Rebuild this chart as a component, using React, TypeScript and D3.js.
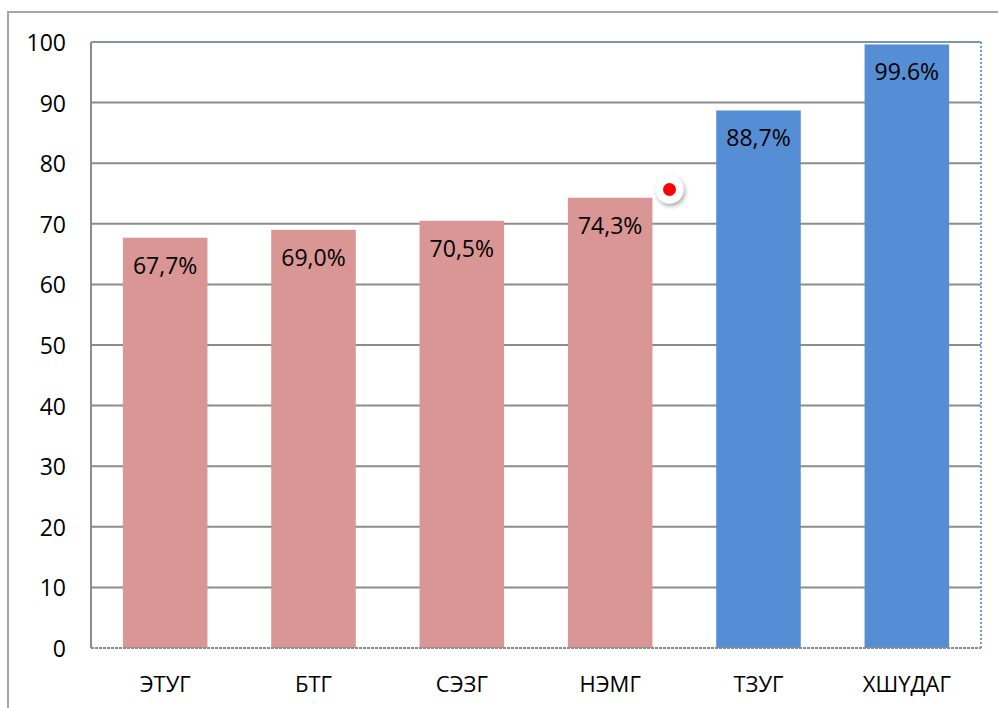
import React from "react";
import * as d3 from "d3";

const categories = ["ЭТУГ", "БТГ", "СЭЗГ", "НЭМГ", "ТЗУГ", "ХШҮДАГ"];
const values = [67.7, 69.0, 70.5, 74.3, 88.7, 99.6];
const labels = ["67,7%", "69,0%", "70,5%", "74,3%", "88,7%", "99.6%"];
const groups = ["pink", "pink", "pink", "pink", "blue", "blue"];
const yTicks = [0, 10, 20, 30, 40, 50, 60, 70, 80, 90, 100];

const W = 998;
const H = 708;
const plot = { left: 91, right: 981, top: 42, bottom: 648 };
const FONT = "'Open Sans', 'Noto Sans', sans-serif";
const colors: Record<string, string> = { pink: "#D99694", blue: "#558ED5" };

export default function App() {
  const x = d3
    .scaleBand<string>()
    .domain(categories)
    .range([plot.left, plot.right])
    .paddingInner(0.43)
    .paddingOuter(0.215);
  const y = d3.scaleLinear().domain([0, 100]).range([plot.bottom, plot.top]);

  return (
    <svg
      width={W}
      height={H}
      style={{ position: "absolute", left: 0, top: 0, background: "#fff" }}
      fontFamily={FONT}
    >
      <defs>
        <filter id="sh" x="-50%" y="-50%" width="200%" height="200%">
          <feDropShadow dx="1.5" dy="2.5" stdDeviation="2" floodColor="#000" floodOpacity="0.35" />
        </filter>
      </defs>
      <rect x={8} y={12} width={1000} height={710} fill="#fff" stroke="#A6A6A6" strokeWidth={2} />

      {yTicks.map((t) => (
        <g key={t}>
          {t > 0 && (
            <line x1={plot.left} x2={plot.right} y1={y(t)} y2={y(t)} stroke="#8C8C8C" strokeWidth={2} />
          )}
          <text
            x={66}
            y={y(t)}
            textAnchor="end"
            dominantBaseline="central"
            fontSize={23}
            fill="#000"
          >
            {t}
          </text>
        </g>
      ))}

      {/* plot-area selection outline */}
      <line
        x1={plot.left}
        x2={plot.right}
        y1={plot.top}
        y2={plot.top}
        stroke="#6F9BD9"
        strokeWidth={2}
        strokeDasharray="2,2"
      />
      <line
        x1={plot.right}
        x2={plot.right}
        y1={plot.top}
        y2={plot.bottom}
        stroke="#6F9BD9"
        strokeWidth={2}
        strokeDasharray="2,2"
      />

      {categories.map((c, i) => (
        <g key={c}>
          <rect
            x={x(c)}
            y={y(values[i])}
            width={x.bandwidth()}
            height={y(0) - y(values[i])}
            fill={colors[groups[i]]}
          />
          <text
            x={(x(c) as number) + x.bandwidth() / 2}
            y={y(values[i]) + 27}
            textAnchor="middle"
            dominantBaseline="central"
            fontSize={23}
            fill="#000"
          >
            {labels[i]}
          </text>
          <text
            x={(x(c) as number) + x.bandwidth() / 2}
            y={683}
            textAnchor="middle"
            dominantBaseline="central"
            fontSize={22}
            fill="#000"
          >
            {c}
          </text>
        </g>
      ))}

      {/* axes */}
      <line x1={plot.left} x2={plot.left} y1={plot.top} y2={plot.bottom} stroke="#8C8C8C" strokeWidth={2} />
      <line
        x1={plot.left}
        x2={plot.right}
        y1={plot.bottom}
        y2={plot.bottom}
        stroke="#8C8C8C"
        strokeWidth={2}
        strokeDasharray="3,1"
      />

      {/* marker */}
      <circle cx={669.5} cy={189.5} r={14} fill="#fff" filter="url(#sh)" />
      <circle cx={669.5} cy={189.5} r={6.5} fill="#FF0000" />
    </svg>
  );
}
